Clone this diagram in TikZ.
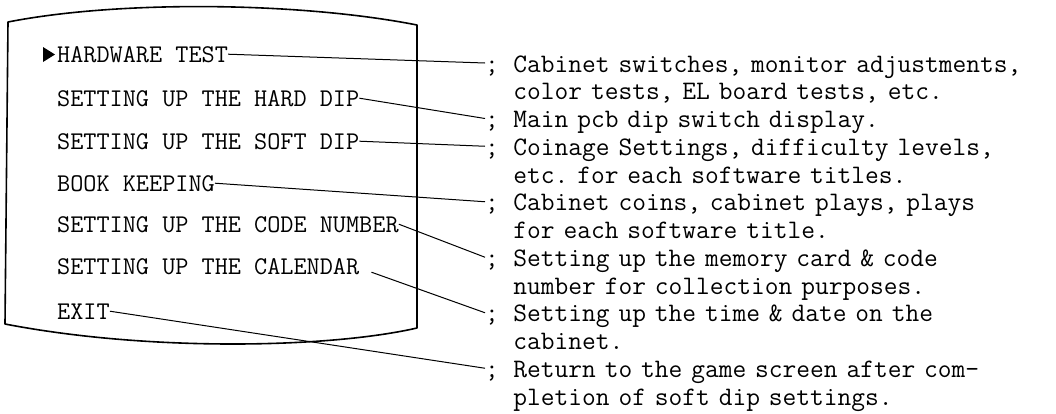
\documentclass[tikz,border=0pt]{standalone}
\usetikzlibrary{positioning}

\newcommand{\menufont}{\ttfamily\fontsize{25.5pt}{25.5pt}\selectfont}
\newcommand{\descfont}{\ttfamily\fontsize{26.7pt}{27.75pt}\selectfont\frenchspacing}

\tikzset{
  item/.style={font=\menufont, inner sep=0pt, text height=15.6pt, text depth=0pt, anchor=base west},
  semi/.style={font=\descfont, inner sep=0pt, text height=18pt, text depth=0pt, anchor=base west},
  desc/.style={font=\descfont, inner sep=0pt, text width=545pt, align=left},
  lead/.style={line width=1pt},
}

\begin{document}
\begin{tikzpicture}[x=1pt,y=-1pt]
  \useasboundingbox (0,0) rectangle (1056,413);
  % the screen
  \draw [line width=1.6pt, line join=round] (8,22) .. controls (120,0) and (300,2) .. (417,25)
    -- (417,328) .. controls (330,348) and (150,352) .. (5,324) -- cycle;
  \fill (43,47) -- (55,54.5) -- (43,62) -- cycle;
  % menu
  \node [item] (hw) at (57,62) {HARDWARE TEST};
  \node [item] (hard) at (57,106) {SETTING UP THE HARD DIP};
  \node [item] (soft) at (57,149) {SETTING UP THE SOFT DIP};
  \node [item] (book) at (57,191) {BOOK KEEPING};
  \node [item] (code) at (57,232) {SETTING UP THE CODE NUMBER};
  \node [item] (cal) at (57,274) {SETTING UP THE CALENDAR};
  \node [item] (exit) at (57,319) {EXIT};
  % semicolons
  \node [semi] (s1) at (485,72) {;};
  \node [semi] (s2) at (485,127.5) {;};
  \node [semi] (s3) at (485,155.25) {;};
  \node [semi] (s4) at (485,210.75) {;};
  \node [semi] (s5) at (485,266.25) {;};
  \node [semi] (s6) at (485,321.75) {;};
  \node [semi] (s7) at (485,377.25) {;};
  % descriptions
  \node [desc, base right=14pt of s1] (d1) {Cabinet switches, monitor adjustments,\\color tests, EL board tests, etc.};
  \node [desc, base right=14pt of s2] (d2) {Main pcb dip switch display.};
  \node [desc, base right=14pt of s3] (d3) {Coinage Settings, difficulty levels,\\etc. for each software titles.};
  \node [desc, base right=14pt of s4] (d4) {Cabinet coins, cabinet plays, plays\\for each software title.};
  \node [desc, base right=14pt of s5] (d5) {Setting up the memory card \& code\\number for collection purposes.};
  \node [desc, base right=14pt of s6] (d6) {Setting up the time \& date on the\\cabinet.};
  \node [desc, base right=14pt of s7] (d7) {Return to the game screen after com-\\pletion of soft dip settings.};
  % leaders
  \draw [lead] (hw.east) -- (s1.west);
  \draw [lead] (hard.east) -- (s2.west);
  \draw [lead] (soft.east) -- (s3.west);
  \draw [lead] (book.east) -- (s4.west);
  \draw [lead] (code.east) -- (s5.west);
  \draw [lead] ([xshift=12pt,yshift=-6pt]cal.east) -- (s6.west);
  \draw [lead] (exit.east) -- (s7.west);
\end{tikzpicture}
\end{document}
